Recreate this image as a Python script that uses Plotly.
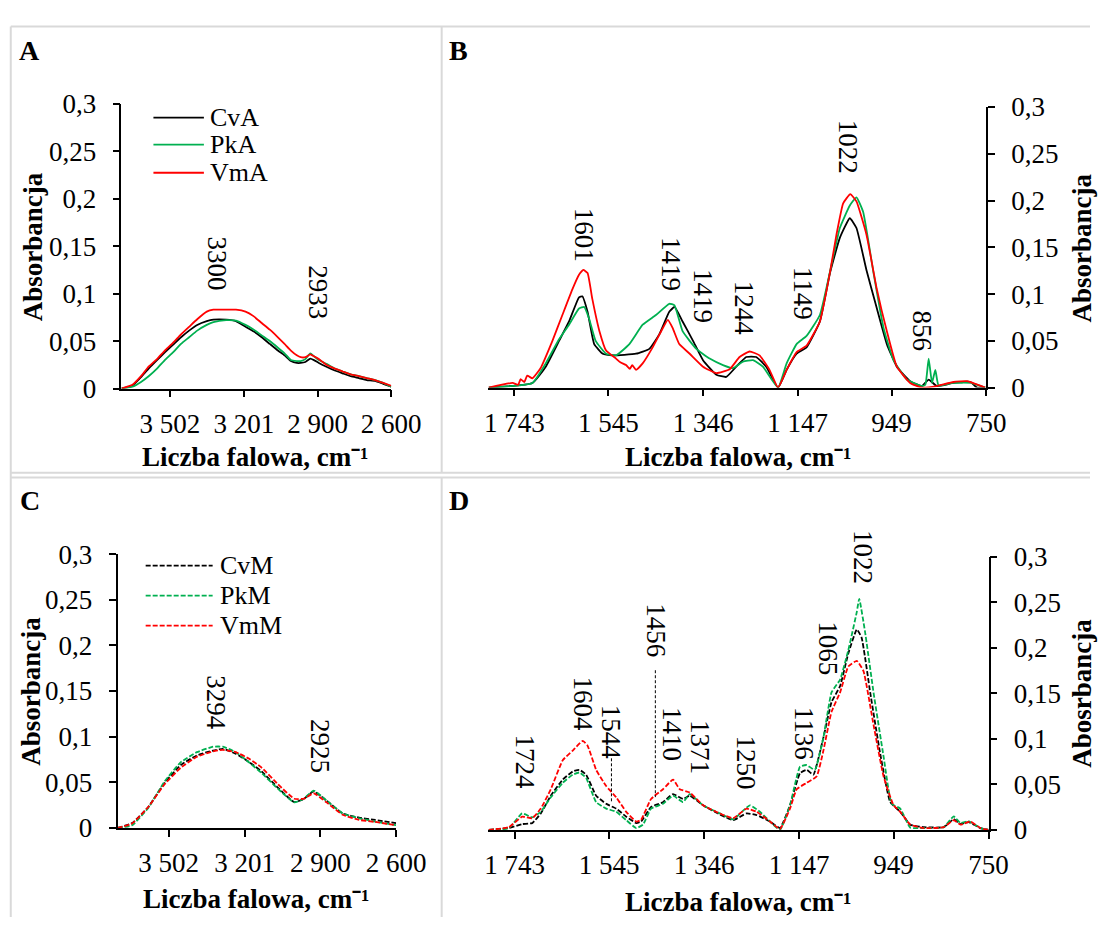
import plotly.graph_objects as go

# ---------------- DATA ----------------
# Panel A (solid lines, 3700-2600 cm-1)
wn_a = [3700, 3655, 3620, 3589, 3555, 3523, 3490, 3457, 3424, 3391, 3352, 3325, 3273, 3233, 3194, 3160,
        3128, 3095, 3062, 3035, 3009, 2985, 2969, 2950, 2930, 2915, 2895, 2864, 2830, 2798, 2765, 2732,
        2700, 2666, 2633, 2600]
cva_a = [0.000, 0.003, 0.012, 0.021, 0.030, 0.038, 0.046, 0.054, 0.061, 0.067, 0.071, 0.0725, 0.0725, 0.071,
         0.065, 0.060, 0.054, 0.047, 0.040, 0.035, 0.029, 0.027, 0.027, 0.028, 0.0315, 0.030, 0.027, 0.023,
         0.019, 0.016, 0.013, 0.011, 0.009, 0.008, 0.005, 0.002]
pka_a = [0.000, 0.002, 0.007, 0.013, 0.021, 0.030, 0.038, 0.047, 0.054, 0.061, 0.067, 0.070, 0.072, 0.0715,
         0.067, 0.062, 0.056, 0.050, 0.043, 0.037, 0.030, 0.029, 0.029, 0.031, 0.037, 0.034, 0.030, 0.026,
         0.021, 0.018, 0.015, 0.013, 0.011, 0.009, 0.006, 0.002]
vma_a = [0.000, 0.004, 0.013, 0.023, 0.031, 0.040, 0.048, 0.057, 0.065, 0.073, 0.081, 0.083, 0.083, 0.083,
         0.081, 0.076, 0.069, 0.062, 0.054, 0.047, 0.040, 0.035, 0.033, 0.033, 0.036, 0.034, 0.031, 0.025,
         0.021, 0.018, 0.015, 0.013, 0.011, 0.009, 0.006, 0.003]

# Panel B (solid lines, 1800-750 cm-1)
wn_cva_b = [1797, 1705, 1677, 1649, 1628, 1607, 1600, 1589, 1575, 1557, 1536, 1487, 1459, 1438, 1417, 1406,
            1389, 1367, 1346, 1318, 1297, 1276, 1255, 1234, 1213, 1188, 1170, 1149, 1128, 1100, 1079, 1058,
            1037, 1023, 1002, 980, 959, 938, 910, 885, 871, 854, 819, 783, 769, 752]
cva_b = [0, 0.005, 0.0224, 0.050, 0.0707, 0.0965, 0.0976, 0.081, 0.0465, 0.0362, 0.0345, 0.0362, 0.0414,
         0.0569, 0.081, 0.0862, 0.0707, 0.050, 0.0293, 0.0138, 0.0114, 0.0224, 0.0327, 0.0327, 0.0224, 0.0,
         0.019, 0.0362, 0.043, 0.0707, 0.122, 0.160, 0.181, 0.1706, 0.1258, 0.0845, 0.0465, 0.0224, 0.0069,
         0.0017, 0.0086, 0.0017, 0.005, 0.006, 0.0, 0.0]
wn_pka_b = [1797, 1705, 1677, 1649, 1628, 1607, 1596, 1586, 1572, 1550, 1529, 1501, 1473, 1445, 1417, 1406,
            1389, 1360, 1332, 1304, 1283, 1262, 1241, 1220, 1188, 1170, 1149, 1128, 1100, 1075, 1058, 1037,
            1023, 1009, 987, 966, 945, 917, 885, 878, 871, 864, 857, 850, 819, 783, 752]
pka_b = [0, 0.005, 0.0259, 0.0517, 0.0672, 0.0845, 0.0862, 0.0741, 0.050, 0.0362, 0.0345, 0.0465, 0.0672,
         0.0776, 0.0896, 0.088, 0.0603, 0.0414, 0.031, 0.0241, 0.0207, 0.0276, 0.0293, 0.0224, 0.0, 0.0259,
         0.0465, 0.0552, 0.0776, 0.1327, 0.1706, 0.1947, 0.2034, 0.1879, 0.1224, 0.0638, 0.0293, 0.0086,
         0.0017, 0.003, 0.031, 0.005, 0.019, 0.002, 0.005, 0.005, 0.0]
wn_vma_b = [1797, 1747, 1735, 1730, 1722, 1716, 1705, 1688, 1663, 1642, 1621, 1607, 1598, 1589, 1579, 1564,
            1550, 1529, 1520, 1508, 1500, 1495, 1487, 1473, 1452, 1434, 1420, 1410, 1396, 1374, 1346, 1318,
            1290, 1269, 1248, 1227, 1206, 1188, 1170, 1149, 1128, 1100, 1079, 1065, 1051, 1036, 1023, 1002,
            980, 959, 938, 910, 885, 854, 819, 790, 752]
vma_b = [0, 0.005, 0.003, 0.009, 0.006, 0.0128, 0.010, 0.0207, 0.050, 0.0776, 0.105, 0.1206, 0.1258, 0.1224,
         0.0948, 0.0603, 0.0396, 0.031, 0.027, 0.0241, 0.020, 0.024, 0.019, 0.0259, 0.043, 0.0603, 0.0724,
         0.0638, 0.0465, 0.0362, 0.0224, 0.0155, 0.0196, 0.0327, 0.0386, 0.0345, 0.019, 0.0, 0.019, 0.038,
         0.0448, 0.0707, 0.1224, 0.1637, 0.197, 0.2068, 0.199, 0.1637, 0.105, 0.0603, 0.0224, 0.005, 0.0,
         0.0017, 0.006, 0.0069, 0.0]

# Panel C (dashed lines, 3700-2600 cm-1)
wn_c = [3705, 3647, 3583, 3518, 3454, 3390, 3326, 3287, 3236, 3184, 3133, 3069, 3004, 2966, 2927, 2876,
        2812, 2747, 2683, 2600]
cvm_c = [0, 0.0053, 0.023, 0.0495, 0.0689, 0.0795, 0.0848, 0.0866, 0.0813, 0.0724, 0.0618, 0.0442, 0.0283,
         0.0318, 0.040, 0.030, 0.0159, 0.0113, 0.0088, 0.0053]
pkm_c = [0, 0.003, 0.022, 0.051, 0.072, 0.083, 0.089, 0.089, 0.083, 0.072, 0.060, 0.043, 0.028, 0.032,
         0.041, 0.030, 0.016, 0.0106, 0.007, 0.003]
vmm_c = [0, 0.005, 0.023, 0.048, 0.066, 0.078, 0.084, 0.0855, 0.083, 0.076, 0.066, 0.048, 0.032, 0.032,
         0.038, 0.028, 0.0145, 0.0088, 0.0066, 0.003]

# Panel D (dashed lines, 1800-750 cm-1)
wn_cvm_d = [1797, 1755, 1727, 1706, 1688, 1667, 1642, 1621, 1607, 1593, 1572, 1551, 1530, 1509, 1488, 1478,
            1457, 1432, 1411, 1390, 1376, 1348, 1313, 1285, 1257, 1236, 1208, 1187, 1166, 1145, 1131, 1117,
            1096, 1079, 1061, 1044, 1026, 1016, 998, 977, 956, 935, 914, 886, 844, 823, 809, 792, 767, 750]
cvm_d = [0, 0.002, 0.0064, 0.0075, 0.0181, 0.0376, 0.0553, 0.0642, 0.066, 0.0607, 0.0376, 0.0287, 0.0234,
         0.0145, 0.0075, 0.0092, 0.0252, 0.0305, 0.0394, 0.034, 0.0376, 0.027, 0.017, 0.0107, 0.0181, 0.0163,
         0.0092, 0.002, 0.027, 0.0624, 0.066, 0.0607, 0.1014, 0.1404, 0.1582, 0.1937, 0.2202, 0.2114, 0.1511,
         0.0837, 0.0305, 0.0199, 0.0057, 0.003, 0.003, 0.0117, 0.0064, 0.0086, 0.002, 0]
wn_pkm_d = [1797, 1755, 1727, 1706, 1688, 1667, 1642, 1621, 1607, 1593, 1572, 1551, 1530, 1509, 1488, 1474,
            1457, 1432, 1411, 1390, 1376, 1348, 1313, 1285, 1250, 1229, 1208, 1187, 1166, 1145, 1131, 1114,
            1096, 1079, 1061, 1044, 1026, 1021, 1009, 991, 970, 953, 935, 914, 886, 844, 823, 809, 792, 767, 750]
pkm_d = [0, 0.002, 0.0181, 0.0138, 0.0199, 0.0358, 0.0518, 0.0607, 0.0631, 0.0571, 0.0305, 0.0234, 0.0199,
         0.0107, 0.002, 0.0057, 0.0234, 0.0287, 0.0376, 0.0305, 0.0394, 0.027, 0.0181, 0.0117, 0.027, 0.0199,
         0.0092, 0.0, 0.027, 0.0695, 0.0713, 0.066, 0.1014, 0.1511, 0.1653, 0.1972, 0.2397, 0.254, 0.2185,
         0.1511, 0.0808, 0.0287, 0.0234, 0.0025, 0.002, 0.003, 0.0149, 0.0075, 0.0096, 0.002, 0]
wn_vmm_d = [1797, 1755, 1727, 1706, 1688, 1667, 1642, 1621, 1600, 1590, 1572, 1551, 1530, 1509, 1488, 1478,
            1457, 1432, 1411, 1397, 1376, 1348, 1313, 1285, 1257, 1236, 1208, 1187, 1166, 1152, 1131, 1110,
            1096, 1079, 1061, 1044, 1026, 1012, 991, 970, 949, 935, 914, 886, 844, 823, 809, 788, 767, 750]
vmm_d = [0, 0.003, 0.0145, 0.0128, 0.0234, 0.0447, 0.0766, 0.0872, 0.0979, 0.0926, 0.066, 0.0482, 0.0358,
         0.0199, 0.0092, 0.011, 0.034, 0.0447, 0.0553, 0.0447, 0.0411, 0.027, 0.0181, 0.0128, 0.0234, 0.0199,
         0.0092, 0.001, 0.0234, 0.0447, 0.0518, 0.0589, 0.0872, 0.1298, 0.1511, 0.1795, 0.1859, 0.1745,
         0.1156, 0.0589, 0.027, 0.0199, 0.0057, 0.002, 0.003, 0.0107, 0.0057, 0.0092, 0.002, 0]

# Tick labels
x_ticks_high = [3502, 3201, 2900, 2600]
x_ticktext_high = ["3 502", "3 201", "2 900", "2 600"]
x_ticks_low = [1743, 1545, 1346, 1147, 949, 750]
x_ticktext_low = ["1 743", "1 545", "1 346", "1 147", "949", "750"]
y_ticks = [0, 0.05, 0.1, 0.15, 0.2, 0.25, 0.3]
y_ticktext = ["0", "0,05", "0,1", "0,15", "0,2", "0,25", "0,3"]

# Peak labels (wavenumber label, x position, y position)
peaks_a = [("3300", 3312, 0.132), ("2933", 2897, 0.101)]
peaks_b = [("1601", 1596, 0.163), ("1419", 1413, 0.132), ("1419", 1346, 0.098), ("1244", 1259, 0.085),
           ("1149", 1135, 0.101), ("1022", 1042, 0.257), ("856", 885, 0.061)]
peaks_c = [("3294", 3312, 0.137), ("2925", 2899, 0.090)]
peaks_d = [("1724", 1722, 0.0745), ("1604", 1600, 0.138), ("1544", 1539, 0.107), ("1456", 1446, 0.219),
           ("1410", 1414, 0.106), ("1371", 1353, 0.0915), ("1250", 1259, 0.0745), ("1136", 1137, 0.106),
           ("1065", 1087, 0.200), ("1022", 1013, 0.300)]
# leader lines in D: (x, y_start, y_end)
leaders_d = [(1540, 0.0787, 0.0309), (1448, 0.1755, 0.036)]

# ---------------- STYLE ----------------
W, H = 1120, 932
FONT = "Liberation Serif, Times New Roman, serif"
BLACK, GREEN, RED = "#000000", "#00b050", "#ff0000"
DASH = "5px,2px"


def pxx(x):
    return x / W


def pyy(y):
    return 1 - y / H


fig = go.Figure()

series = [
    ("CvA", wn_a, cva_a, BLACK, "solid", "x", "y"),
    ("PkA", wn_a, pka_a, GREEN, "solid", "x", "y"),
    ("VmA", wn_a, vma_a, RED, "solid", "x", "y"),
    ("CvA", wn_cva_b, cva_b, BLACK, "solid", "x2", "y2"),
    ("PkA", wn_pka_b, pka_b, GREEN, "solid", "x2", "y2"),
    ("VmA", wn_vma_b, vma_b, RED, "solid", "x2", "y2"),
    ("CvM", wn_c, cvm_c, BLACK, DASH, "x3", "y3"),
    ("PkM", wn_c, pkm_c, GREEN, DASH, "x3", "y3"),
    ("VmM", wn_c, vmm_c, RED, DASH, "x3", "y3"),
    ("CvM", wn_cvm_d, cvm_d, BLACK, DASH, "x4", "y4"),
    ("PkM", wn_pkm_d, pkm_d, GREEN, DASH, "x4", "y4"),
    ("VmM", wn_vmm_d, vmm_d, RED, DASH, "x4", "y4"),
]
for name, xs, ys, col, dash, xa, ya in series:
    fig.add_trace(go.Scatter(x=xs, y=ys, mode="lines", name=name, showlegend=False,
                             line=dict(color=col, width=1.8, dash=dash, shape="spline", smoothing=0.4),
                             xaxis=xa, yaxis=ya))

tickfont = dict(family=FONT, size=27, color="black")


def xaxis(domain, rng, tv, tt, anchor):
    return dict(domain=domain, range=rng, tickvals=tv, ticktext=tt, anchor=anchor,
                ticks="outside", ticklen=7, tickwidth=1.6, tickcolor="black",
                showline=True, linewidth=1.6, linecolor="black", showgrid=False, zeroline=False,
                tickfont=tickfont, ticklabelstandoff=3, fixedrange=True)


def yaxis(domain, anchor, side):
    return dict(domain=domain, range=[0, 0.3], tickvals=y_ticks, ticktext=y_ticktext, anchor=anchor,
                side=side, ticks="outside", ticklen=7, tickwidth=1.6, tickcolor="black",
                showline=True, linewidth=1.6, linecolor="black", showgrid=False, zeroline=False,
                tickfont=tickfont, ticklabelstandoff=11, fixedrange=True)


fig.update_layout(
    width=W, height=H, margin=dict(l=0, r=0, t=0, b=0),
    paper_bgcolor="white", plot_bgcolor="rgba(0,0,0,0)",
    font=dict(family=FONT, color="black"),
    xaxis=xaxis([pxx(122), pxx(400)], [3700, 2600], x_ticks_high, x_ticktext_high, "y"),
    yaxis=yaxis([pyy(386), pyy(91.5)], "x", "left"),
    xaxis2=xaxis([pxx(500), pxx(1013)], [1798, 750], x_ticks_low, x_ticktext_low, "y2"),
    yaxis2=yaxis([pyy(385), pyy(95)], "x2", "right"),
    xaxis3=xaxis([pxx(118), pxx(405)], [3705, 2600], x_ticks_high, x_ticktext_high, "y3"),
    yaxis3=yaxis([pyy(840), pyy(557)], "x3", "left"),
    xaxis4=xaxis([pxx(500), pxx(1015.5)], [1798, 750], x_ticks_low, x_ticktext_low, "y4"),
    yaxis4=yaxis([pyy(842), pyy(560)], "x4", "right"),
)

ann = []
shapes = []

# panel letters
for letter, x, y in [("A", 27, 37), ("B", 469, 37), ("C", 28, 502), ("D", 470, 502)]:
    ann.append(dict(text=letter, x=pxx(x), y=pyy(y), xref="paper", yref="paper",
                    xanchor="center", yanchor="middle", showarrow=False,
                    font=dict(family=FONT, size=28, color="black", weight="bold")))

# axis titles
xt = "Liczba falowa, cm\u207b\u00b9"
for x, y in [(260, 457), (757, 457), (261, 913), (757, 916)]:
    ann.append(dict(text=xt, x=pxx(x), y=pyy(y), xref="paper", yref="paper", xanchor="center",
                    yanchor="middle", showarrow=False,
                    font=dict(family=FONT, size=27, color="black", weight="bold")))
for txt, x, y in [("Absorbancja", 31, 240), ("Absorbancja", 1112, 241), ("Absorbancja", 28, 699),
                  ("Abosrbancja", 1112, 701)]:
    ann.append(dict(text=txt, x=pxx(x), y=pyy(y), xref="paper", yref="paper",
                    xanchor="center", yanchor="middle", textangle=-90, showarrow=False,
                    font=dict(family=FONT, size=27, color="black", weight="bold")))

# peak labels
for plist, xr, yr in [(peaks_a, "x", "y"), (peaks_b, "x2", "y2"), (peaks_c, "x3", "y3"), (peaks_d, "x4", "y4")]:
    for txt, x, y in plist:
        ann.append(dict(text=txt, x=x, y=y, xref=xr, yref=yr, xanchor="center", yanchor="middle",
                        textangle=90, showarrow=False, font=dict(family=FONT, size=27, color="black")))

for x, y0, y1 in leaders_d:
    shapes.append(dict(type="line", xref="x4", yref="y4", x0=x, x1=x, y0=y0, y1=y1,
                       line=dict(color="black", width=1, dash="3px,2px")))

# legends (manual)
legend_a = [("CvA", BLACK, "solid", 106), ("PkA", GREEN, "solid", 134), ("VmA", RED, "solid", 163)]
legend_c = [("CvM", BLACK, DASH, 569), ("PkM", GREEN, DASH, 600), ("VmM", RED, DASH, 631)]
for items, x0, x1, xt0 in [(legend_a, 155, 207, 211), (legend_c, 147, 216, 222)]:
    for name, col, dash, y in items:
        shapes.append(dict(type="line", xref="paper", yref="paper", x0=pxx(x0), x1=pxx(x1),
                           y0=pyy(y), y1=pyy(y), line=dict(color=col, width=1.8, dash=dash)))
        ann.append(dict(text=name, x=pxx(xt0), y=pyy(y), xref="paper", yref="paper", xanchor="left",
                        yanchor="middle", showarrow=False, font=dict(family=FONT, size=26, color="black")))

# panel frames (light gray cell borders)
GRAY = "#d9d9d9"
for (x0, y0, x1, y1) in [(8, 12, 1120, 12), (8, 473, 1120, 473), (8, 478, 1120, 478),
                         (8, 12, 8, 932), (452, 12, 452, 473), (452, 478, 452, 932)]:
    shapes.append(dict(type="line", xref="paper", yref="paper", x0=pxx(x0), x1=pxx(x1),
                       y0=pyy(y0), y1=pyy(y1), line=dict(color=GRAY, width=2), layer="below"))

fig.update_layout(annotations=ann, shapes=shapes)
fig.write_html("out.html")
